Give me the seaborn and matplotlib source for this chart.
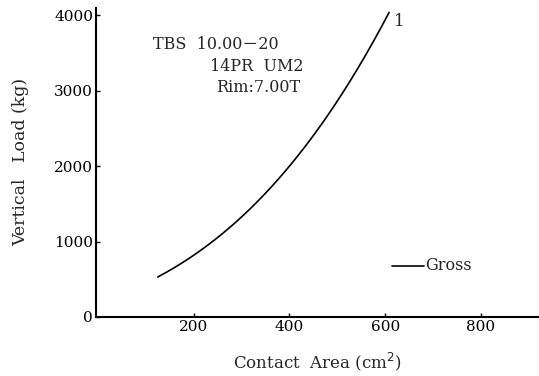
import numpy as np
import pandas as pd
import seaborn as sns
import matplotlib.pyplot as plt

# Values
contact_area = [125, 200, 300, 400, 500, 560, 608]
vertical_load = [518, 850, 1300, 2000, 2880, 3480, 4037]
x_ticks = [200, 400, 600, 800]
y_ticks = [0, 1000, 2000, 3000, 4000]
note_lines = ["TBS  10.00－20", "14PR  UM2", "Rim:7.00T"]

sns.set_style("ticks")
plt.rcParams['font.family'] = ['DejaVu Serif', 'Noto Sans CJK JP']

df = pd.DataFrame({'area': contact_area, 'load': vertical_load})

fig = plt.figure(figsize=(5.39, 3.76), dpi=100)
ax = fig.add_axes([0.178, 0.157, 0.822, 0.822])

# smooth curve through the read points
xs = np.linspace(df['area'].min(), df['area'].max(), 200)
coef = np.polyfit(df['area'], df['load'], 3)
smooth = pd.DataFrame({'area': xs, 'load': np.polyval(coef, xs)})
sns.lineplot(data=smooth, x='area', y='load', ax=ax, color='black', linewidth=1.2)

ax.set_xlim(-4, 921)
ax.set_ylim(0, 4100)
ax.set_xticks(x_ticks)
ax.set_yticks(y_ticks)
ax.tick_params(direction='in', length=3, width=1, labelsize=11, colors='black', pad=2)
for s in ['left', 'bottom']:
    ax.spines[s].set_linewidth(1.5)
    ax.spines[s].set_color('black')
sns.despine(ax=ax)

ax.set_xlabel("Contact  Area (cm$^2$)", fontsize=12, labelpad=12)
ax.set_ylabel("Vertical   Load (kg)", fontsize=12.5, labelpad=18)

ax.text(115, 3610, note_lines[0], fontsize=11.5, ha='left', va='center')
ax.text(430, 3320, note_lines[1], fontsize=11.5, ha='right', va='center')
ax.text(422, 3040, note_lines[2], fontsize=11.5, ha='right', va='center')
ax.text(618, 3920, "1", fontsize=12, ha='left', va='center')

# legend-style marker for the line type
ax.plot([615, 680], [680, 680], color='black', linewidth=1.2)
ax.text(683, 680, "Gross", fontsize=11.5, ha='left', va='center')

fig.savefig('out.png', dpi=100)
